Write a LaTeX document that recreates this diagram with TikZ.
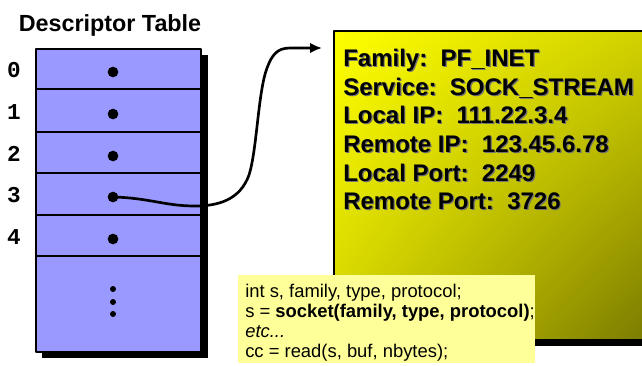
\documentclass[tikz,border=0pt]{standalone}
\usepackage{fontspec}
\setmainfont{Liberation Sans}
\setmonofont{Liberation Mono}
\usetikzlibrary{arrows.meta,shadings}

\definecolor{slotblue}{RGB}{153,153,255}
\definecolor{notefill}{RGB}{255,255,153}
\definecolor{sockhi}{RGB}{255,255,0}
\definecolor{sockmid}{RGB}{210,210,0}
\definecolor{socklo}{RGB}{125,125,0}

\newcommand{\sockinfo}{Family:\ \ PF\_INET\\
  Service:\ \ SOCK\_STREAM\\
  Local IP:\ \ 111.22.3.4\\
  Remote IP:\ \ 123.45.6.78\\
  Local Port:\ \ 2249\\
  Remote Port:\ \ 3726}

\tikzset{
  slotdot/.style={circle,fill=black,inner sep=0pt,minimum size=8pt},
  slotnum/.style={font=\ttfamily\bfseries\fontsize{17}{20}\selectfont,anchor=base},
  infotext/.style={font=\bfseries\fontsize{18}{21.5}\selectfont,align=left,
    inner sep=0pt,anchor=north west},
}

\begin{document}
\begin{tikzpicture}[x=0.75pt,y=-0.75pt,line join=round,>=latex]
  \useasboundingbox (0,0) rectangle (642,365);

  % descriptor table with its drop shadow
  \node[font=\bfseries\fontsize{17.5}{20}\selectfont,anchor=base] (title) at (110,31) {Descriptor Table};
  \fill (42,55) rectangle (208,358);
  \fill[slotblue] (36,49) rectangle (201,352);
  \foreach \y in {89,132,173,215,256}
    \draw[line width=1.4pt] (36,\y) -- (201,\y);
  \draw[line width=1.4pt] (36,49) rectangle (201,352);

  \foreach \i/\y in {0/72,1/114,2/156,3/197,4/239} {
    \node[slotdot] (d\i) at (113,\y) {};
    \node[slotnum] (n\i) at (14,\y+5) {\i};
  }
  \foreach \k/\y in {1/289,2/302,3/314}
    \node[circle,fill=black,inner sep=0pt,minimum size=4.5pt] (more\k) at (113,\y) {};

  % socket structure
  \fill (340,330) rectangle (642,346);
  \shade[upper left=sockhi,upper right=sockmid,lower left=sockmid,lower right=socklo]
    (334,31) rectangle (642,338);
  \draw[line width=1pt] (334,338) -- (334,31) -- (642,31);
  \node[infotext,text=black!55] (infoshade) at (344.2,50) {\sockinfo};
  \node[infotext] (info) at (343,48.8) {\sockinfo};

  % pointer from slot 3
  \coordinate (ptr) at (322,48);
  \draw[line width=2pt,line cap=round,-{Latex[length=9pt,width=8pt]}] (d3.center)
    .. controls (150,198) and (165,206) .. (195,206)
    .. controls (218,206) and (240,200) .. (249,175)
    .. controls (257,150) and (258,92) .. (267,68)
    .. controls (272,55) and (277,48) .. (290,48) -- (ptr);

  % code note
  \fill[notefill] (238,275) rectangle (535,363);
  \node[font=\fontsize{13.8}{15}\selectfont,align=left,inner sep=0pt,anchor=north west] (code)
    at (245,283.5) {int s, family, type, protocol;\\
    s = \textbf{socket(family, type, protocol)};\\
    \textit{etc...}\\
    cc = read(s, buf, nbytes);};
\end{tikzpicture}
\end{document}
